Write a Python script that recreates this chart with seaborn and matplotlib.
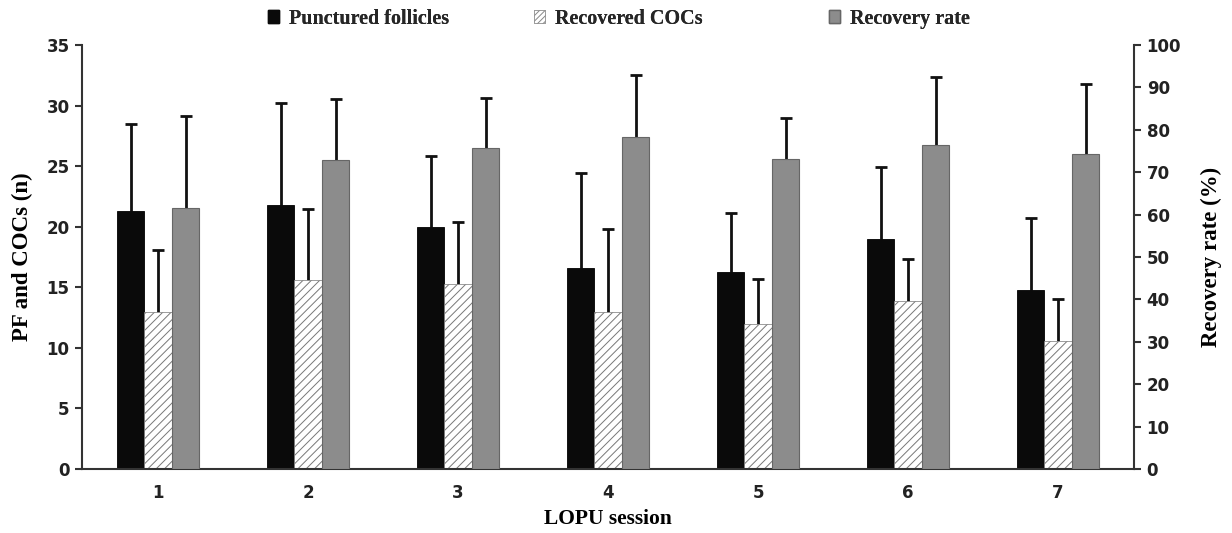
import numpy as np
import pandas as pd
import matplotlib
matplotlib.use("Agg")
import matplotlib.pyplot as plt
import matplotlib.patches as mpatches
import seaborn as sns

sessions = ["1", "2", "3", "4", "5", "6", "7"]
pf_mean = [21.3, 21.8, 20.0, 16.6, 16.3, 19.0, 14.8]
pf_top = [28.5, 30.2, 25.8, 24.4, 21.1, 24.9, 20.7]
coc_mean = [13.0, 15.6, 15.3, 13.0, 12.0, 13.9, 10.6]
coc_top = [18.1, 21.5, 20.4, 19.8, 15.7, 17.3, 14.0]
rr_mean = [61.6, 72.9, 75.7, 78.3, 73.1, 76.4, 74.3]
rr_top = [83.3, 87.3, 87.5, 92.9, 82.8, 92.5, 90.8]
series = ["Punctured follicles", "Recovered COCs", "Recovery rate"]

sns.set_theme(style="white")
plt.rcParams["hatch.linewidth"] = 0.7
plt.rcParams["hatch.color"] = "#555555"

serif = ["Liberation Serif", "DejaVu Serif"]
sans = ["DejaVu Sans"]

left_df = pd.DataFrame({
    "session": sessions * 2,
    "series": [series[0]] * 7 + [series[1]] * 7,
    "value": pf_mean + coc_mean,
})
right_df = pd.DataFrame({
    "session": sessions,
    "series": [series[2]] * 7,
    "value": rr_mean,
})

fig = plt.figure(figsize=(12.32, 5.33), dpi=100)
ax = fig.add_axes([0.0666, 0.120, 0.854, 0.7956])
ax2 = ax.twinx()

palette = {series[0]: "#0a0a0a", series[1]: "white", series[2]: "#8c8c8c"}

sns.barplot(data=left_df, x="session", y="value", hue="series", hue_order=series,
            order=sessions, palette=palette, width=0.55, errorbar=None, dodge=True,
            legend=False, ax=ax, saturation=1)
sns.barplot(data=right_df, x="session", y="value", hue="series", hue_order=series,
            order=sessions, palette=palette, width=0.55, errorbar=None, dodge=True,
            legend=False, ax=ax2, saturation=1)

left_bars = [p for p in ax.patches if isinstance(p, mpatches.Rectangle) and p.get_height() > 0]
left_bars.sort(key=lambda p: p.get_x())
right_bars = [p for p in ax2.patches if isinstance(p, mpatches.Rectangle) and p.get_height() > 0]
right_bars.sort(key=lambda p: p.get_x())

pf_bars = left_bars[0::2]
coc_bars = left_bars[1::2]

for p in pf_bars:
    p.set_edgecolor("#000000"); p.set_linewidth(0.6)
for p in coc_bars:
    p.set_facecolor("white"); p.set_hatch("////"); p.set_edgecolor("#777777"); p.set_linewidth(0.5)
for p in right_bars:
    p.set_edgecolor("#666666"); p.set_linewidth(0.8)

def add_err(axis, bars, means, tops):
    xs = [p.get_x() + p.get_width() / 2 for p in bars]
    hs = [p.get_height() for p in bars]
    up = [t - m for t, m in zip(tops, means)]
    cont = axis.errorbar(xs, hs, yerr=[np.zeros(len(up)), up], fmt="none",
                         ecolor="#111111", elinewidth=2.0, capsize=4.5, capthick=2.0, zorder=0.5)
    caps = cont[1]
    if len(caps) >= 2:
        caps[0].set_visible(False)

add_err(ax, pf_bars, pf_mean, pf_top)
add_err(ax, coc_bars, coc_mean, coc_top)
add_err(ax2, right_bars, rr_mean, rr_top)

ax.set_xlim(-0.507, 6.507)
ax.set_ylim(0, 35)
ax2.set_ylim(0, 100)
ax.set_yticks(range(0, 36, 5))
ax2.set_yticks(range(0, 101, 10))

for a in (ax, ax2):
    for s in a.spines.values():
        s.set_color("#333333"); s.set_linewidth(1.5)
    a.spines["top"].set_visible(False)
ax.spines["right"].set_visible(False)
ax2.spines["left"].set_visible(False)
ax2.spines["bottom"].set_visible(False)

ax.tick_params(axis="y", left=True, length=5, width=1.5, color="#333333", pad=4)
ax.tick_params(axis="x", bottom=False, pad=5)
ax2.tick_params(axis="y", right=True, length=5, width=1.5, color="#333333", pad=4)

for lab in ax.get_yticklabels() + ax.get_xticklabels() + ax2.get_yticklabels():
    lab.set_fontfamily(sans); lab.set_fontweight("bold"); lab.set_fontsize(12); lab.set_color("#222222")

ax.set_xlabel("LOPU session", fontfamily=serif, fontweight="bold", fontsize=15.5, labelpad=5, color="black")
ax.set_ylabel("PF and COCs (n)", fontfamily=serif, fontweight="bold", fontsize=16.5, labelpad=10, color="black")
ax2.set_ylabel("Recovery rate (%)", fontfamily=serif, fontweight="bold", fontsize=16.5, labelpad=14, color="black")

handles = [
    mpatches.Patch(facecolor="#0a0a0a", edgecolor="#0a0a0a"),
    mpatches.Patch(facecolor="white", edgecolor="#888888", hatch="//////", linewidth=0.5),
    mpatches.Patch(facecolor="#8c8c8c", edgecolor="#666666"),
]
xpos = [0.2094, 0.4253, 0.665]
for h, lab, xp in zip(handles, series, xpos):
    leg = fig.legend([h], [lab], loc="center left", bbox_to_anchor=(xp, 0.965),
                     frameon=False, handlelength=0.55, handleheight=0.55,
                     handletextpad=0.5, borderpad=0,
                     prop={"family": serif, "weight": "bold", "size": 14.5})
    fig.add_artist(leg)

fig.savefig("out.png", dpi=100)
